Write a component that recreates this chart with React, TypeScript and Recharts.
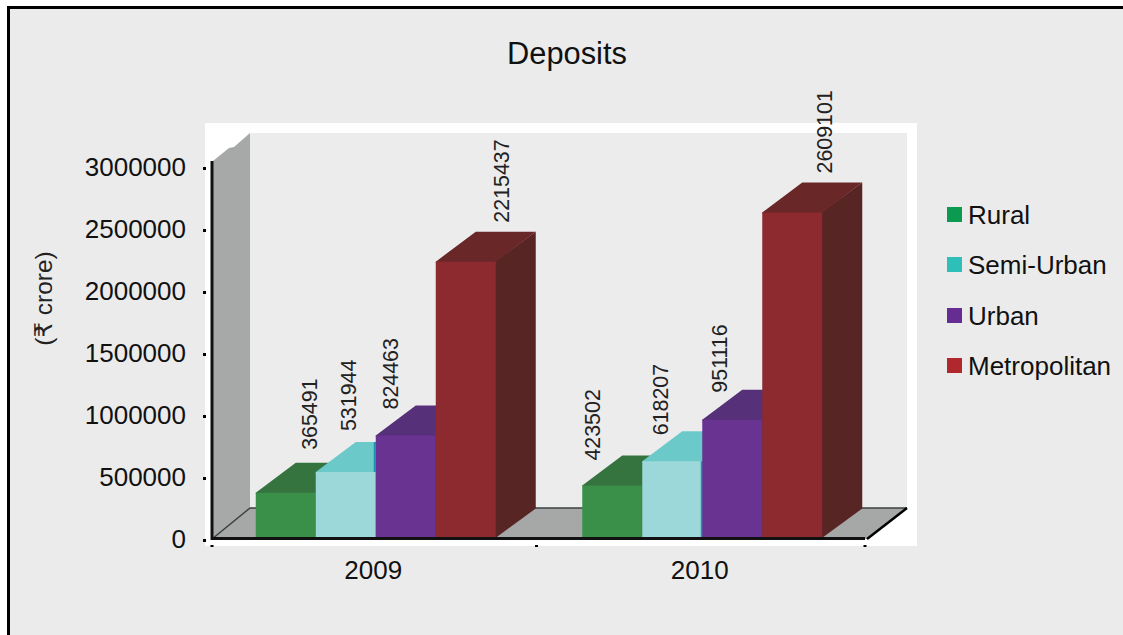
import React from "react";
import { Bar, BarChart, Customized, LabelList, Legend, ReferenceLine, XAxis, YAxis } from "recharts";

// Deposits by population group, in crore of rupees
const years = ["2009", "2010"];
const rural = [365491, 423502];
const semiUrban = [531944, 618207];
const urban = [824463, 951116];
const metropolitan = [2215437, 2609101];
const yTicks = [0, 500000, 1000000, 1500000, 2000000, 2500000, 3000000];

const rows = years.map((year, i) => ({
  year,
  Rural: rural[i],
  "Semi-Urban": semiUrban[i],
  Urban: urban[i],
  Metropolitan: metropolitan[i],
}));

const FONT = '"Liberation Sans", Arial, sans-serif';
const W = 1123;
const H = 635;
const PLOT = { left: 212, right: 865, top: 168, bottom: 540 };
const DEPTH = { dx: 40, dy: 30 };
const LEGEND_WIDTH = 176;

// Front / top / side shading of each extruded column
const FACES: Record<string, { front: string; top: string; side: string }> = {
  Rural: { front: "#3B9049", top: "#35733F", side: "#2E6437" },
  "Semi-Urban": { front: "#9CD8D9", top: "#6CC9CA", side: "#1C92B8" },
  Urban: { front: "#693391", top: "#563078", side: "#452664" },
  Metropolitan: { front: "#8D2A30", top: "#692728", side: "#572523" },
};

// Value-label nudges, relative to the column's top-left front corner
const LABEL_NUDGE: Record<string, { dx: number[]; dy: number[] }> = {
  Rural: { dx: [54, 10], dy: [-43, -25] },
  "Semi-Urban": { dx: [33, 18], dy: [-41, -26] },
  Urban: { dx: [15, 17], dy: [-26, -27] },
  Metropolitan: { dx: [66, 62], dy: [-39, -39] },
};

function Column(props: any) {
  const { x, y, width, height, name, index } = props;
  const f = FACES[name];
  const { dx, dy } = DEPTH;
  const r = x + width;
  const b = y + height;
  return (
    <g>
      <polygon points={`${r - 1},${y} ${r + dx},${y - dy} ${r + dx},${b - dy} ${r - 1},${b}`} fill={f.side} />
      {/* the top face runs a pixel under the front face so their shared edge stays clean */}
      <polygon points={`${x},${y + 1} ${x},${y} ${x + dx},${y - dy} ${r + dx},${y - dy} ${r},${y} ${r},${y + 1}`} fill={f.top} />
      <rect x={x} y={y} width={width} height={height} fill={f.front} />
      {/* the cyan column shows a narrow blue seam against its neighbour */}
      {name === "Semi-Urban" ? (
        index === 0 ? (
          <rect x={r - 2} y={y - dy} width={2} height={dy} fill={f.side} />
        ) : (
          <rect x={r - 1.5} y={y} width={2} height={height} fill={f.side} />
        )
      ) : null}
    </g>
  );
}

function Backdrop() {
  const { left, right, top, bottom } = PLOT;
  const floorBack = 508;
  const wallRight = 250;
  const farRight = 906;
  return (
    <g>
      <rect x={0} y={0} width={W} height={H} fill="#FFFFFF" />
      <rect x={7} y={6} width={W - 7} height={H - 6} fill="#000000" />
      <rect x={10} y={9} width={W - 10} height={H - 9} fill="#EBEBEB" />
      <rect x={205} y={123} width={712} height={423} fill="#FFFFFF" />
      <rect x={wallRight} y={133} width={farRight + 1 - wallRight} height={floorBack - 133} fill="#ECECEC" />
      <polygon
        points={`${left + 1},161 229,148 234,147 ${wallRight},133 ${wallRight},${floorBack} ${left + 1},${bottom - 1}`}
        fill="#A7A9A8"
      />
      <polygon
        points={`${left},${bottom - 1} ${wallRight},${floorBack} ${farRight},${floorBack} ${right + 2},${bottom - 1}`}
        fill="#A6A8A7"
      />
      <line x1={wallRight} y1={floorBack} x2={farRight + 1} y2={floorBack} stroke="#3C4040" strokeWidth={1.5} />
      <line x1={left} y1={bottom - 1} x2={wallRight} y2={floorBack} stroke="#3C4040" strokeWidth={1.5} />
      <line x1={farRight + 1} y1={floorBack} x2={right + 2} y2={bottom - 1} stroke="#000000" strokeWidth={2.5} />
      <line x1={left} y1={161} x2={left} y2={top} stroke="#111111" strokeWidth={3} />
      {[left, 536.5, right].map((tx) => (
        <rect key={tx} x={tx - 1.5} y={545} width={3} height={2} fill="#000000" />
      ))}
      <text x={567} y={64} textAnchor="middle" fontFamily={FONT} fontSize={30.8} fill="#111111">
        Deposits
      </text>
      <text
        transform="translate(52 298.5) rotate(-90)"
        textAnchor="middle"
        fontFamily={`${FONT}, "DejaVu Sans"`}
        fontSize={24.5}
        fill="#222222"
      >
        (₹ crore)
      </text>
    </g>
  );
}

function YTick({ x, y, payload }: any) {
  return (
    <g>
      <rect x={x - 1} y={y - 1} width={3} height={3} fill="#000000" />
      <text x={x - 18} y={y + 8} textAnchor="end" fontFamily={FONT} fontSize={26} fill="#111111">
        {payload.value}
      </text>
    </g>
  );
}

function XTick({ x, y, payload }: any) {
  return (
    <text x={x - 2} y={y + 31} textAnchor="middle" fontFamily={FONT} fontSize={26} fill="#111111">
      {payload.value}
    </text>
  );
}

function valueLabel(key: string) {
  return function ValueLabel({ x, y, value, index }: any) {
    const n = LABEL_NUDGE[key];
    const px = x + n.dx[index];
    const py = y + n.dy[index];
    return (
      <text
        transform={`translate(${px + 7.5} ${py}) rotate(-90)`}
        fontFamily={FONT}
        fontSize={21.4}
        fill="#222222"
      >
        {value}
      </text>
    );
  };
}

function LegendBlock({ payload }: any) {
  return (
    <div style={{ fontFamily: FONT, fontSize: 26, color: "#111111" }}>
      {(payload || []).map((item: any) => (
        <div key={item.value} style={{ position: "relative", height: 50.3, lineHeight: "30px", whiteSpace: "nowrap" }}>
          <span
            style={{ position: "absolute", left: 0, top: 7, width: 15, height: 15, background: item.color }}
          />
          <span style={{ position: "absolute", left: 21, top: 0 }}>{item.value}</span>
        </div>
      ))}
    </div>
  );
}

const SERIES: [string, string][] = [
  ["Rural", "#0B9A50"],
  ["Semi-Urban", "#2EC0B8"],
  ["Urban", "#652D91"],
  ["Metropolitan", "#B0282E"],
];

export default function App() {
  return (
    <div style={{ position: "absolute", left: 0, top: 0, width: W, height: H }}>
      <BarChart
        width={W}
        height={H}
        data={rows}
        barGap={0}
        barCategoryGap="13.4%"
        margin={{
          left: PLOT.left - 130,
          right: W - PLOT.right - LEGEND_WIDTH,
          top: PLOT.top,
          bottom: H - PLOT.bottom - 40,
        }}
      >
        <Customized component={Backdrop} />
        <XAxis dataKey="year" height={40} axisLine={false} tickLine={false} tick={XTick} />
        <YAxis
          width={130}
          domain={[0, 3000000]}
          allowDataOverflow
          ticks={yTicks}
          interval={0}
          axisLine={{ stroke: "#111111", strokeWidth: 3 }}
          tickLine={false}
          tick={YTick}
        />
        {/* Columns stand on the floor slightly in front of the zero tick, so they get their own scale */}
        <YAxis yAxisId="columns" hide domain={[-12000, 2965000]} allowDataOverflow />
        <Legend
          layout="vertical"
          align="right"
          verticalAlign="middle"
          width={LEGEND_WIDTH}
          itemSorter={null}
          content={LegendBlock}
          wrapperStyle={{ position: "absolute", left: 947, top: 200, width: LEGEND_WIDTH }}
        />
        {SERIES.map(([name, color]) => (
          <Bar
            key={name}
            yAxisId="columns"
            dataKey={name}
            fill={color}
            isAnimationActive={false}
            shape={(p: any) => <Column {...p} name={name} />}
          >
            <LabelList dataKey={name} content={valueLabel(name)} />
          </Bar>
        ))}
        <ReferenceLine yAxisId="columns" y={0} stroke="#111111" strokeWidth={3} />
      </BarChart>
    </div>
  );
}
